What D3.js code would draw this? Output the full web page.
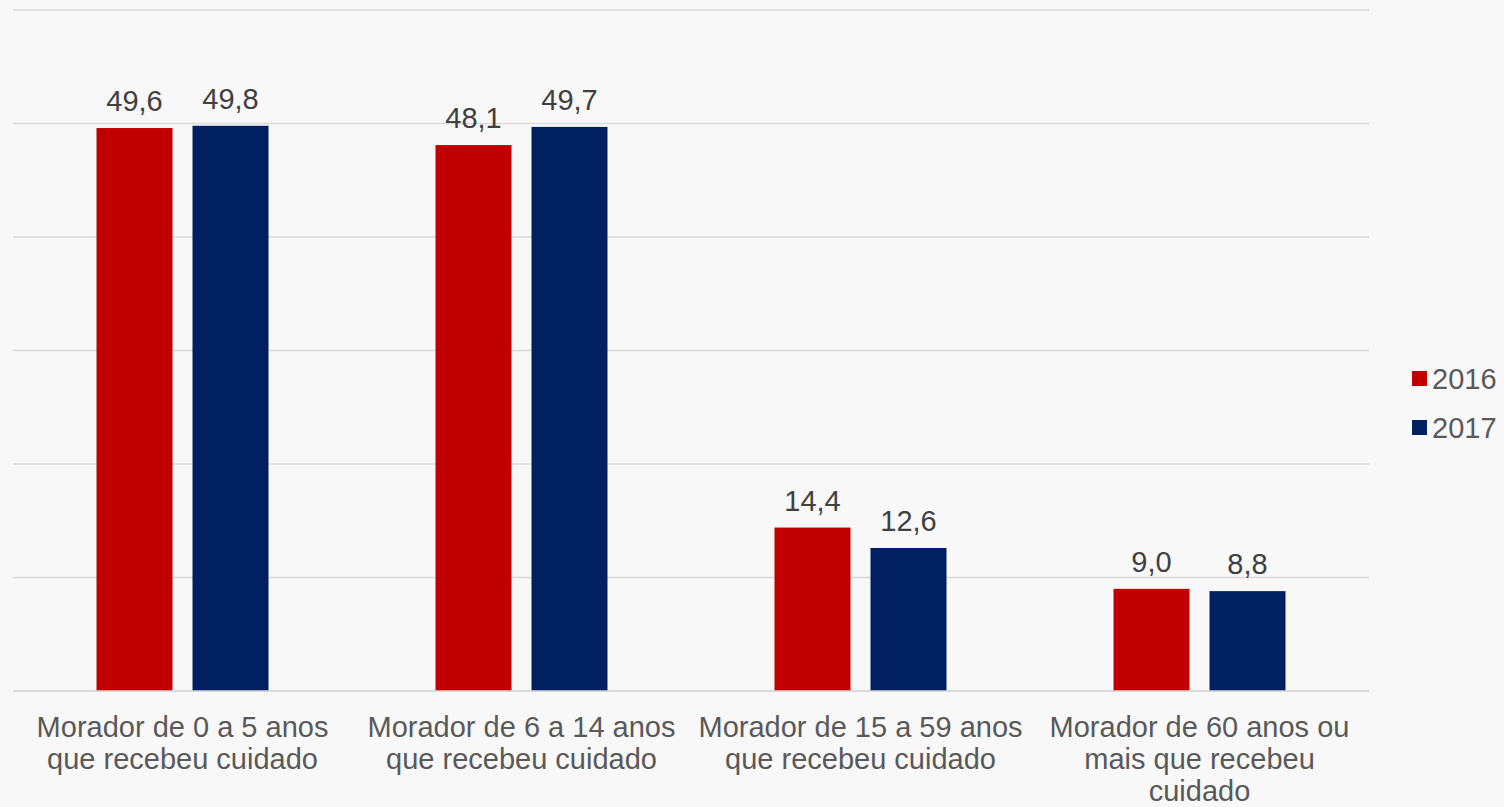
<!DOCTYPE html>
<html>
<head>
<meta charset="utf-8">
<script src="https://cdn.jsdelivr.net/npm/d3@7"></script>
<style>
  body { margin: 0; background: #f8f8f8; }
  svg { display: block; font-family: "Liberation Sans", Arial, sans-serif; }
</style>
</head>
<body>
<div id="chart"></div>
<script>
// data
const categories = [
  ["Morador de 0 a 5 anos", "que recebeu cuidado"],
  ["Morador de 6 a 14 anos", "que recebeu cuidado"],
  ["Morador de 15 a 59 anos", "que recebeu cuidado"],
  ["Morador de 60 anos ou", "mais que recebeu", "cuidado"]
];
const series = ["2016", "2017"];
const values2016 = [49.6, 48.1, 14.4, 9.0];
const values2017 = [49.8, 49.7, 12.6, 8.8];
const yTicks = [0, 10, 20, 30, 40, 50, 60];

const colors = { "2016": "#C00000", "2017": "#002060" };

const width = 1504, height = 807;
const plot = { left: 13, right: 1369, top: 10, bottom: 691 };

const svg = d3.select("#chart")
  .append("svg")
  .attr("width", width)
  .attr("height", height);

svg.append("rect")
  .attr("width", width)
  .attr("height", height)
  .attr("fill", "#f8f8f8");

const catKeys = categories.map((c, i) => i);

const x0 = d3.scaleBand()
  .domain(catKeys)
  .range([plot.left, plot.right])
  .padding(0);

const x1 = d3.scaleBand()
  .domain(series)
  .range([0, x0.bandwidth()])
  .paddingInner(0.2083)
  .paddingOuter(0.87);

const y = d3.scaleLinear()
  .domain([0, 60])
  .range([plot.bottom, plot.top]);

// gridlines
svg.append("g")
  .attr("class", "grid")
  .selectAll("line")
  .data(yTicks)
  .join("line")
  .attr("x1", plot.left)
  .attr("x2", plot.right)
  .attr("y1", d => y(d))
  .attr("y2", d => y(d))
  .attr("stroke", "#d9d9d9")
  .attr("stroke-width", 1.5);

// bars
const rows = catKeys.map(i => ({
  cat: i,
  vals: [
    { key: "2016", value: values2016[i] },
    { key: "2017", value: values2017[i] }
  ]
}));

const groups = svg.append("g")
  .selectAll("g")
  .data(rows)
  .join("g")
  .attr("transform", d => `translate(${x0(d.cat)},0)`);

groups.selectAll("rect")
  .data(d => d.vals)
  .join("rect")
  .attr("x", d => x1(d.key))
  .attr("width", x1.bandwidth())
  .attr("y", d => y(d.value))
  .attr("height", d => y(0) - y(d.value))
  .attr("fill", d => colors[d.key]);

// value labels
groups.selectAll("text")
  .data(d => d.vals)
  .join("text")
  .attr("x", d => x1(d.key) + x1.bandwidth() / 2)
  .attr("y", d => y(d.value) - 17)
  .attr("text-anchor", "middle")
  .attr("font-size", 29)
  .attr("fill", "#404040")
  .text(d => d.value.toFixed(1).replace(".", ","));

// redraw baseline above bars
svg.append("line")
  .attr("x1", plot.left)
  .attr("x2", plot.right)
  .attr("y1", y(0))
  .attr("y2", y(0))
  .attr("stroke", "#d9d9d9")
  .attr("stroke-width", 1.5);

// category labels
const xAxis = svg.append("g");
xAxis.selectAll("text")
  .data(categories)
  .join("text")
  .attr("text-anchor", "middle")
  .attr("font-size", 29)
  .attr("fill", "#595959")
  .attr("transform", (d, i) => `translate(${x0(i) + x0.bandwidth() / 2},737)`)
  .selectAll("tspan")
  .data(d => d)
  .join("tspan")
  .attr("x", 0)
  .attr("y", (d, i) => i * 32)
  .text(d => d);

// legend
const legend = svg.append("g")
  .attr("transform", "translate(1412,371)");

const item = legend.selectAll("g")
  .data(series)
  .join("g")
  .attr("transform", (d, i) => `translate(0,${i * 49})`);

item.append("rect")
  .attr("width", 15)
  .attr("height", 15)
  .attr("fill", d => colors[d]);

item.append("text")
  .attr("x", 20)
  .attr("y", 18)
  .attr("font-size", 29)
  .attr("fill", "#595959")
  .text(d => d);
</script>
</body>
</html>
